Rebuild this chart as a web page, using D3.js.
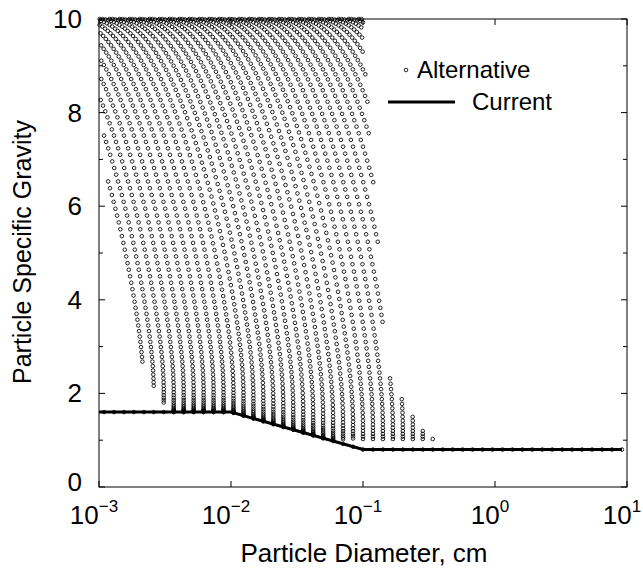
<!DOCTYPE html>
<html>
<head>
<meta charset="utf-8">
<script src="https://cdn.jsdelivr.net/npm/d3@7"></script>
<style>
  body { margin: 0; background: #fff; }
  text { font-family: "Liberation Sans", Arial, sans-serif; fill: #000; }
</style>
</head>
<body>
<div id="chart"></div>
<script>
// particle diameters (cm) of the computed size classes
const diameters = [
  0.001091, 0.001298, 0.001544, 0.001837, 0.002186, 0.002601, 0.003094, 0.003682,
  0.004380, 0.005212, 0.006201, 0.007378, 0.008778, 0.01044, 0.01243, 0.01478,
  0.01759, 0.02093, 0.02490, 0.02963, 0.03525, 0.04194, 0.04990, 0.05937,
  0.07064, 0.08405, 0.1000, 0.1190, 0.1415, 0.1684, 0.2003, 0.2384,
  0.2836, 0.3374, 0.4014, 0.4776, 0.5682, 0.6760, 0.8043, 0.9569,
  1.139, 1.356, 1.613, 1.919, 2.283, 2.716, 3.232, 3.845,
  4.575, 5.443, 6.477, 7.706, 9.169
];
// current design specific gravity, per size class
const currentSG = [
  1.6, 1.6, 1.6, 1.6, 1.6, 1.6, 1.6, 1.6,
  1.6, 1.6, 1.6, 1.6, 1.6, 1.585, 1.525, 1.464,
  1.404, 1.343, 1.283, 1.223, 1.162, 1.102, 1.042, 0.981,
  0.921, 0.860, 0.8, 0.8, 0.8, 0.8, 0.8, 0.8,
  0.8, 0.8, 0.8, 0.8, 0.8, 0.8, 0.8, 0.8,
  0.8, 0.8, 0.8, 0.8, 0.8, 0.8, 0.8, 0.8,
  0.8, 0.8, 0.8, 0.8, 0.8
];
// alternatives swept from each current point towards SG 10:
// fraction of the way from current SG up to 10, one entry per sweep step
const sweepSGFraction = [
  0, 0.0003, 0.0012, 0.0027, 0.0049, 0.0076, 0.0109, 0.0149, 0.0194, 0.0245,
  0.0302, 0.0364, 0.0432, 0.0506, 0.0585, 0.0670, 0.0760, 0.0855, 0.0955, 0.1060,
  0.1170, 0.1284, 0.1403, 0.1527, 0.1654, 0.1786, 0.1922, 0.2061, 0.2204, 0.2350,
  0.2500, 0.2653, 0.2808, 0.2966, 0.3127, 0.3290, 0.3455, 0.3622, 0.3790, 0.3960,
  0.4132, 0.4304, 0.4477, 0.4651, 0.4826, 0.5000, 0.5174, 0.5349, 0.5523, 0.5696,
  0.5868, 0.6040, 0.6210, 0.6378, 0.6545, 0.6710, 0.6873, 0.7034, 0.7192, 0.7347,
  0.7500, 0.7650, 0.7796, 0.7939, 0.8078, 0.8214, 0.8346, 0.8473, 0.8597, 0.8716,
  0.8830, 0.8940, 0.9045, 0.9145, 0.9240, 0.9330, 0.9415, 0.9494, 0.9568, 0.9636,
  0.9698, 0.9755, 0.9806, 0.9851, 0.9891, 0.9924, 0.9951, 0.9973, 0.9988, 0.9997,
  1
];
// shift towards smaller diameter at each sweep step, in size classes
const sweepShiftClasses = [
  0, 0, 0, 0, 0, 0, 0, 0, 0, 0,
  0, 0, 0, 0, 0, 0.005, 0.015, 0.03, 0.05, 0.075,
  0.105, 0.141, 0.183, 0.231, 0.285, 0.345, 0.411, 0.483, 0.561, 0.645,
  0.735, 0.830, 0.930, 1.035, 1.145, 1.260, 1.380, 1.505, 1.635, 1.770,
  1.910, 2.055, 2.205, 2.360, 2.520, 2.685, 2.855, 3.030, 3.210, 3.395,
  3.585, 3.778, 3.974, 4.173, 4.375, 4.580, 4.788, 4.999, 5.213, 5.430,
  5.650, 5.873, 6.099, 6.328, 6.560, 6.795, 7.033, 7.274, 7.518, 7.765,
  8.015, 8.267, 8.521, 8.777, 9.035, 9.295, 9.557, 9.821, 10.087, 10.355,
  10.625, 10.897, 11.171, 11.447, 11.725, 12.005, 12.287, 12.571, 12.857, 13.145,
  13.435
];
// lower edge of the alternatives: settling limit, log10((SG - 1) * d^2)
const settlingLimit = -5.12;
// upper edge of the alternatives on the coarse side (diameter cm, SG)
const edgeD = [0.1, 0.1091, 0.1253, 0.1393, 0.1468, 0.1718, 0.2119, 0.2477,
  0.2897, 0.3449, 0.4111, 0.4887, 0.5728, 0.6812];
const edgeSG = [10, 8, 6, 4, 2.5, 2.25, 1.77, 1.42, 1.18, 1.03, 0.95, 0.88, 0.84, 0.8];

// current design line vertices
const currentD = [0.001, 0.01, 0.1, 9.169];
const currentLineSG = [1.6, 1.6, 0.8, 0.8];

const xTicks = [0.001, 0.01, 0.1, 1, 10];
const xTickExp = ['\u22123', '\u22122', '\u22121', '0', '1'];
const yTicks = [0, 1, 2, 3, 4, 5, 6, 7, 8, 9, 10];
const yLabelTicks = [0, 2, 4, 6, 8, 10];

const W = 643, H = 571;
const margin = { top: 19, right: 16, bottom: 84, left: 99 };
const width = W - margin.left - margin.right;
const height = H - margin.top - margin.bottom;

const svg = d3.select('#chart').append('svg')
  .attr('width', W)
  .attr('height', H);

const g = svg.append('g')
  .attr('transform', 'translate(' + margin.left + ',' + margin.top + ')');

const x = d3.scaleLog().domain([0.001, 10]).range([0, width]);
const y = d3.scaleLinear().domain([0, 10]).range([height, 0]);

const classStep = Math.log10(diameters[1] / diameters[0]);
const upperEdge = d3.scaleLog().domain(edgeD).range(edgeSG).clamp(true);

// alternative points
const altPoints = [];
diameters.forEach((d0, i) => {
  const s0 = currentSG[i];
  altPoints.push({ d: d0, sg: s0 });
  sweepSGFraction.forEach((f, j) => {
    if (j === 0) return;
    const s = s0 + (10 - s0) * f;
    const d = d0 * Math.pow(10, -sweepShiftClasses[j] * classStep);
    if (d < 0.001) return;
    if (s <= 1 || Math.log10((s - 1) * d * d) < settlingLimit) return;
    if (s > upperEdge(d) + 1e-9) return;
    altPoints.push({ d: d, sg: s });
  });
});

// current line
const currentData = currentD.map((d, i) => ({ d: d, sg: currentLineSG[i] }));
g.append('path')
  .datum(currentData)
  .attr('fill', 'none')
  .attr('stroke', '#000')
  .attr('stroke-width', 3)
  .attr('d', d3.line().x((p) => x(p.d)).y((p) => y(p.sg)));

g.selectAll('.alt')
  .data(altPoints)
  .enter()
  .append('circle')
    .attr('class', 'alt')
    .attr('cx', (p) => x(p.d))
    .attr('cy', (p) => y(p.sg))
    .attr('r', 1.8)
    .attr('fill', 'none')
    .attr('stroke', '#000')
    .attr('stroke-width', 0.85);

// frame
g.append('rect')
  .attr('width', width)
  .attr('height', height)
  .attr('fill', 'none')
  .attr('stroke', '#000')
  .attr('stroke-width', 1);

// ticks, pointing inward on all four sides
const tickLen = 6;
xTicks.forEach((t) => {
  g.append('line').attr('x1', x(t)).attr('x2', x(t))
    .attr('y1', height).attr('y2', height - tickLen).attr('stroke', '#000');
  g.append('line').attr('x1', x(t)).attr('x2', x(t))
    .attr('y1', 0).attr('y2', tickLen).attr('stroke', '#000');
});
yTicks.forEach((t) => {
  const len = yLabelTicks.includes(t) ? tickLen : 4;
  g.append('line').attr('x1', 0).attr('x2', len)
    .attr('y1', y(t)).attr('y2', y(t)).attr('stroke', '#000');
  g.append('line').attr('x1', width).attr('x2', width - len)
    .attr('y1', y(t)).attr('y2', y(t)).attr('stroke', '#000');
});

// tick labels
xTicks.forEach((t, i) => {
  const lbl = g.append('text')
    .attr('x', x(t) - 5)
    .attr('y', height + 37)
    .attr('text-anchor', 'middle')
    .style('font-size', '26px');
  lbl.append('tspan').text('10');
  lbl.append('tspan')
    .attr('dy', -12)
    .style('font-size', '17px')
    .text(xTickExp[i]);
});
yLabelTicks.forEach((t) => {
  g.append('text')
    .attr('x', -17)
    .attr('y', y(t) + (t === 0 ? 4 : 9))
    .attr('text-anchor', 'end')
    .style('font-size', '26px')
    .text(t);
});

// axis titles
svg.append('text')
  .attr('x', 364)
  .attr('y', 562)
  .attr('text-anchor', 'middle')
  .style('font-size', '26px')
  .text('Particle Diameter, cm');
svg.append('text')
  .attr('transform', 'translate(31,' + 252 + ') rotate(-90)')
  .attr('text-anchor', 'middle')
  .style('font-size', '25px')
  .text('Particle Specific Gravity');

// legend
const legend = svg.append('g');
legend.append('circle')
  .attr('cx', 406).attr('cy', 70).attr('r', 1.8)
  .attr('fill', 'none').attr('stroke', '#000').attr('stroke-width', 0.85);
legend.append('text')
  .attr('x', 417).attr('y', 78)
  .style('font-size', '24px')
  .text('Alternative');
legend.append('line')
  .attr('x1', 388).attr('x2', 455)
  .attr('y1', 102).attr('y2', 102)
  .attr('stroke', '#000').attr('stroke-width', 3);
legend.append('text')
  .attr('x', 472).attr('y', 110)
  .style('font-size', '24px')
  .text('Current');
</script>
</body>
</html>
